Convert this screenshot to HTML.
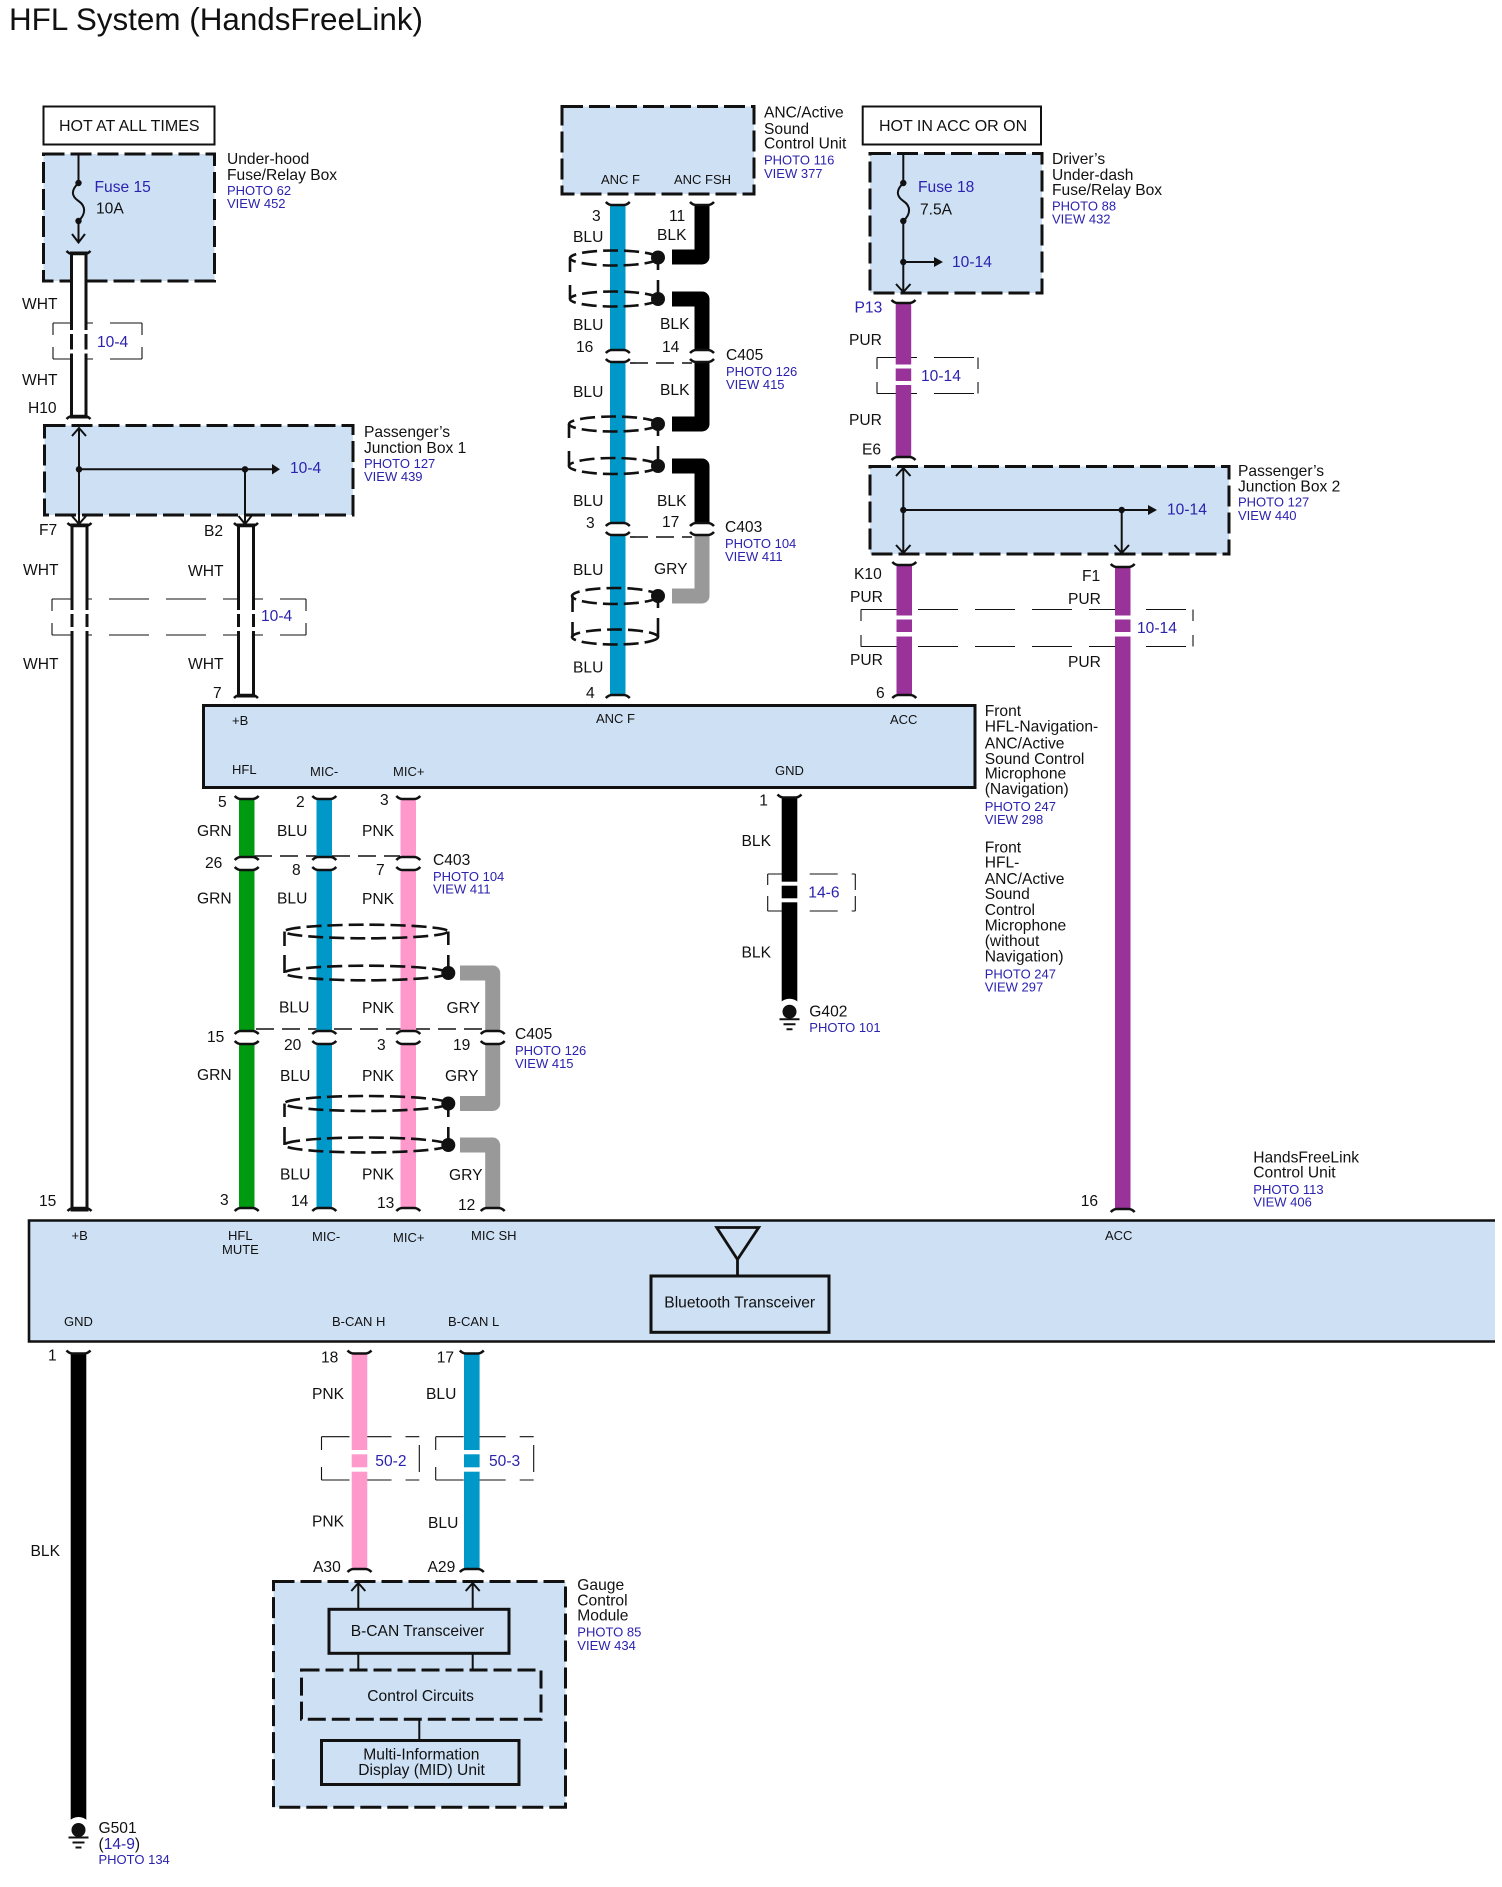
<!DOCTYPE html>
<html><head><meta charset="utf-8"><title>HFL System (HandsFreeLink)</title>
<style>
html,body{margin:0;padding:0;background:#fff}
svg{display:block}
text{font-family:"Liberation Sans",Arial,sans-serif;font-size:15.6px;fill:#111}
.b{fill:#2b22ae}
.p{font-size:13px;fill:#2b22ae}
.s{font-size:13px}
.n{fill:#2b22ae;font-size:15.6px}
.box{fill:#cee0f4;stroke:#111;stroke-width:3;stroke-dasharray:21 6}
.sol{fill:#cee0f4;stroke:#111;stroke-width:3}
.ln{fill:none;stroke:#111;stroke-width:2}
.th{fill:none;stroke:#111;stroke-width:1.1}
.thd{fill:none;stroke:#111;stroke-width:1.1;stroke-dasharray:40 17}
.thm{fill:none;stroke:#111;stroke-width:1.1;stroke-dasharray:28 14}
.sh{fill:none;stroke:#111;stroke-width:2.6;stroke-dasharray:15 6}
.shv{fill:none;stroke:#111;stroke-width:2.6}
.cd{fill:none;stroke:#111;stroke-width:1.6;stroke-dasharray:18 8}
.bend{fill:none;stroke-width:15;stroke-linejoin:round}
</style></head>
<body>
<svg xmlns="http://www.w3.org/2000/svg" width="1502" height="1887" viewBox="0 0 1502 1887">
<defs>
<path id="ct" d="M-12-2Q-9 1-6 1H6Q9 1 12-2" fill="none" stroke="#111" stroke-width="2.6"/>
<path id="cb" d="M-12 2Q-9-1-6-1H6Q9-1 12 2" fill="none" stroke="#111" stroke-width="2.6"/>
<g id="gnd"><circle r="13" fill="#fff"/><circle r="7" fill="#111"/><path d="M-10 7.500H10M-6 12.500H6M-3 17.500H3" stroke="#111" stroke-width="2"/></g>
</defs>
<rect width="1502" height="1887" fill="#fff"/>

<text x="9" y="30" style="font-size:31.4px">HFL System (HandsFreeLink)</text>

<!-- boxes -->
<rect x="43.5" y="106.5" width="171" height="38" fill="#fff" stroke="#111" stroke-width="2"/>
<text x="59" y="131" style="font-size:16px">HOT AT ALL TIMES</text>
<rect class="box" x="43.5" y="154" width="171" height="127"/>
<rect class="box" x="44.5" y="425.5" width="308.5" height="89.5"/>
<rect class="box" x="562" y="106.5" width="192" height="87.5"/>
<rect x="862.7" y="106.5" width="178.3" height="38" fill="#fff" stroke="#111" stroke-width="2"/>
<text x="879" y="131" style="font-size:16px">HOT IN ACC OR ON</text>
<rect class="box" x="870" y="153.5" width="172" height="139.5"/>
<rect class="box" x="870" y="466.5" width="359" height="87.5"/>
<rect class="sol" x="203.5" y="705.5" width="771.5" height="82"/>
<rect x="29" y="1220.5" width="1466" height="121" fill="#cee0f4"/>
<path d="M1495 1220.500H29V1341.500H1495" fill="none" stroke="#111" stroke-width="2.6"/>
<rect class="box" x="273.500" y="1581.500" width="292" height="225.800"/>

<!-- thin dashed ref boxes -->
<path class="thd" d="M53 323H142M53 359H142"/><path class="th" d="M53 323V335M53 347V359M142 323V335M142 347V359"/>
<path class="thd" d="M52 599H306M52 635H306"/><path class="th" d="M52 599V611M52 623V635M306 599V611M306 623V635"/>
<path class="thd" d="M877 357.500H978M877 393.500H978"/><path class="th" d="M877 357.500V369M877 382V393.500M978 357.500V369M978 382V393.500"/>
<path class="thd" d="M861 609.500H1193M861 646.500H1193"/><path class="th" d="M861 609.500V621M861 635V646.500M1193 609.500V621M1193 635V646.500"/>
<path class="thm" d="M767.700 874H855.300M767.700 911H855.300"/><path class="th" d="M767.700 874V885M767.700 896V911M855.300 874V890M855.300 896V911"/>
<path class="thm" d="M321.500 1436.700H419.300M321.500 1480H419.300"/><path class="th" d="M321.500 1436.700V1450M321.500 1467V1480M419.300 1445V1472"/>
<path class="thm" d="M435.700 1436.700H533.700M435.700 1480H533.700"/><path class="th" d="M435.700 1436.700V1450M435.700 1467V1480M533.700 1445V1472"/>

<!-- internal lines -->
<path class="ln" d="M78.500 154V183M78.500 221V242M72 234L78.500 242.500L85 234"/>
<path class="ln" d="M78.500 183C71 190 71 196 78.500 201C86 206 86 214 78.500 221"/>
<circle cx="78.500" cy="183" r="3.200" fill="#111"/><circle cx="78.500" cy="221" r="3.200" fill="#111"/>
<path class="ln" d="M79 428V524M72 436L79 428L86 436M72 516L79 524L86 516M79 469.300H272M245 469.300V524M238.500 516L245 524L251.500 516"/>
<path d="M272 464L280 469.300L272 474.500Z" fill="#111"/>
<circle cx="79" cy="469.300" r="3.200" fill="#111"/><circle cx="245" cy="469.300" r="3.200" fill="#111"/>

<path class="ln" d="M903.300 154V183M903.300 221V292M896 284L903.300 292L910.500 284M903.300 262H934"/>
<path class="ln" d="M903.300 183C896 190 896 196 903.300 201C911 206 911 214 903.300 221"/>
<path d="M934 257L943 262L934 267Z" fill="#111"/>
<circle cx="903.300" cy="183" r="3.200" fill="#111"/><circle cx="903.300" cy="221" r="3.200" fill="#111"/><circle cx="903.300" cy="262" r="3.200" fill="#111"/>
<path class="ln" d="M903.300 468V553M896 476L903.300 468L910.500 476M896 545L903.300 553L910.500 545M903.300 510H1148M1121.700 510V553M1114.500 545L1121.700 553L1129 545"/>
<path d="M1148 505L1157 510L1148 515Z" fill="#111"/>
<circle cx="903.300" cy="510" r="3.200" fill="#111"/><circle cx="1121.700" cy="510" r="3.200" fill="#111"/>

<!-- connector dashes -->
<path class="cd" d="M630 363H692"/>
<path class="cd" d="M630 537H692"/>
<path class="cd" d="M254 856H400"/>
<path class="cd" d="M256 1029H485"/>

<!-- white wires -->
<g fill="#fff" stroke="#111" stroke-width="3">
<path d="M71.500 253H86V417H71.500Z"/>
<path d="M72 525H87V1210H72Z"/>
<path d="M238.500 525H253.500V696H238.500Z"/>
</g>
<!-- colored straight wires -->
<g>
<rect x="610" y="205" width="15.500" height="145" fill="#0098c8"/>
<rect x="610" y="361" width="15.500" height="163" fill="#0098c8"/>
<rect x="610" y="534" width="15.500" height="162" fill="#0098c8"/>
<rect x="895.700" y="302.500" width="15.500" height="155" fill="#993399"/>
<rect x="896.500" y="564" width="15.500" height="132" fill="#993399"/>
<rect x="1115" y="566" width="15.500" height="644" fill="#993399"/>
<rect x="239" y="798" width="15.500" height="60" fill="#009a10"/>
<rect x="239" y="869" width="15.500" height="163" fill="#009a10"/>
<rect x="239" y="1043" width="15.500" height="166" fill="#009a10"/>
<rect x="316.500" y="798" width="15.500" height="60" fill="#0098c8"/>
<rect x="316.500" y="869" width="15.500" height="163" fill="#0098c8"/>
<rect x="316.500" y="1043" width="15.500" height="166" fill="#0098c8"/>
<rect x="400.500" y="798" width="15.500" height="60" fill="#ff99cc"/>
<rect x="400.500" y="869" width="15.500" height="163" fill="#ff99cc"/>
<rect x="400.500" y="1043" width="15.500" height="166" fill="#ff99cc"/>
<rect x="781.700" y="797" width="15.600" height="208" fill="#000"/>
<rect x="70.700" y="1353" width="15.600" height="470" fill="#000"/>
<rect x="351.700" y="1353" width="15.600" height="217" fill="#ff99cc"/>
<rect x="464" y="1353" width="15.600" height="217" fill="#0098c8"/>
</g>
<!-- bent wires -->
<path class="bend" stroke="#000" d="M702 205V257H672"/>
<path class="bend" stroke="#000" d="M672 299H702V350"/>
<path class="bend" stroke="#000" d="M702 361V424H672"/>
<path class="bend" stroke="#000" d="M672 466H702V524"/>
<path class="bend" stroke="#999" d="M702 534V596H672"/>
<path class="bend" stroke="#999" d="M460 973H492.700V1032"/>
<path class="bend" stroke="#999" d="M492.700 1043V1103.500H460"/>
<path class="bend" stroke="#999" d="M460 1145H492.700V1209"/>

<!-- wire breaks -->
<g fill="#fff">
<rect x="65" y="330" width="27" height="4"/><rect x="65" y="349.500" width="27" height="4"/>
<rect x="66" y="610" width="27" height="4"/><rect x="66" y="627" width="27" height="4"/>
<rect x="232" y="610" width="28" height="4"/><rect x="232" y="627" width="28" height="4"/>
<rect x="893" y="364.500" width="21" height="4"/><rect x="893" y="381" width="21" height="4"/>
<rect x="894" y="615.500" width="21" height="4"/><rect x="894" y="632" width="21" height="4.500"/>
<rect x="1113" y="615.500" width="21" height="4"/><rect x="1113" y="632" width="21" height="4.500"/>
<rect x="779" y="881.700" width="21" height="4"/><rect x="779" y="898.300" width="21" height="4"/>
<rect x="349" y="1450" width="21" height="4.300"/><rect x="349" y="1467.300" width="21" height="4.400"/>
<rect x="461" y="1450" width="21" height="4.300"/><rect x="461" y="1467.300" width="21" height="4.400"/>
</g>

<!-- connector caps -->
<g>
<use href="#ct" x="78.500" y="253"/><use href="#cb" x="78.500" y="417"/>
<use href="#ct" x="79.500" y="525"/><use href="#cb" x="79.500" y="1209"/>
<use href="#ct" x="246" y="525"/><use href="#cb" x="246" y="696"/>
<use href="#ct" x="617.800" y="204"/><use href="#ct" x="702" y="204"/>
<use href="#cb" x="617.800" y="351"/><use href="#cb" x="702" y="351"/>
<use href="#ct" x="617.800" y="361"/><use href="#ct" x="702" y="361"/>
<use href="#cb" x="617.800" y="524"/><use href="#cb" x="702" y="524"/>
<use href="#ct" x="617.800" y="534"/><use href="#ct" x="702" y="534"/>
<use href="#cb" x="617.800" y="696"/>
<use href="#ct" x="903.500" y="302"/><use href="#cb" x="903.500" y="458"/>
<use href="#ct" x="904.300" y="564"/><use href="#cb" x="904.300" y="696"/>
<use href="#ct" x="1122.700" y="566"/><use href="#cb" x="1122.700" y="1210"/>
<use href="#ct" x="246.700" y="798"/><use href="#ct" x="324.300" y="798"/><use href="#ct" x="408.300" y="798"/><use href="#ct" x="789.500" y="796.500"/>
<use href="#cb" x="246.700" y="858"/><use href="#cb" x="324.300" y="858"/><use href="#cb" x="408.300" y="858"/>
<use href="#ct" x="246.700" y="869"/><use href="#ct" x="324.300" y="869"/><use href="#ct" x="408.300" y="869"/>
<use href="#cb" x="246.700" y="1032"/><use href="#cb" x="324.300" y="1032"/><use href="#cb" x="408.300" y="1032"/><use href="#cb" x="492.700" y="1032"/>
<use href="#ct" x="246.700" y="1043"/><use href="#ct" x="324.300" y="1043"/><use href="#ct" x="408.300" y="1043"/><use href="#ct" x="492.700" y="1043"/>
<use href="#cb" x="246.700" y="1209"/><use href="#cb" x="324.300" y="1209"/><use href="#cb" x="408.300" y="1209"/><use href="#cb" x="492.700" y="1209"/>
<use href="#ct" x="78.500" y="1352.500"/><use href="#ct" x="359.500" y="1352.500"/><use href="#ct" x="471.800" y="1352.500"/>
<use href="#cb" x="359.500" y="1570"/><use href="#cb" x="471.800" y="1570"/>
</g>

<!-- shields -->
<g>
<ellipse class="sh" cx="614" cy="258" rx="44" ry="7.500"/>
<ellipse class="sh" cx="614" cy="299" rx="44" ry="7.500"/>
<path class="shv" d="M570 258V272M570 285V299M658 258V270M658 280V299"/>
<circle cx="658" cy="257.500" r="7" fill="#111"/><circle cx="658" cy="299" r="7" fill="#111"/>
<ellipse class="sh" cx="613.500" cy="424" rx="44.500" ry="7.500"/>
<ellipse class="sh" cx="613.500" cy="466" rx="44.500" ry="8"/>
<path class="shv" d="M569 424V438M569 451V466M658 424V436M658 446V466"/>
<circle cx="658" cy="424" r="7" fill="#111"/><circle cx="658" cy="466" r="7" fill="#111"/>
<ellipse class="sh" cx="615" cy="596" rx="43" ry="8"/>
<ellipse class="sh" cx="615" cy="637" rx="43" ry="7.500"/>
<path class="shv" d="M572.500 596V612M572.500 622V637M658 596V608M658 618V637"/>
<circle cx="658" cy="596" r="7" fill="#111"/>
<ellipse class="sh" cx="366.300" cy="931.500" rx="82" ry="6.800"/>
<ellipse class="sh" cx="366.300" cy="973" rx="82" ry="7.300"/>
<path class="shv" d="M284.500 931.500V946M284.500 955V973M448.300 931.500V945M448.300 955V973"/>
<circle cx="448.300" cy="973" r="7" fill="#111"/>
<ellipse class="sh" cx="366.300" cy="1103.500" rx="82" ry="7.500"/>
<ellipse class="sh" cx="366.300" cy="1145" rx="82" ry="7.500"/>
<path class="shv" d="M284.500 1103.500V1117M284.500 1127V1145M448.300 1103.500V1117M448.300 1127V1145"/>
<circle cx="448.300" cy="1103.500" r="7" fill="#111"/><circle cx="448.300" cy="1145" r="7" fill="#111"/>
</g>

<!-- grounds -->
<use href="#gnd" x="789.500" y="1011.700"/>
<use href="#gnd" x="78.500" y="1830"/>

<!-- Bluetooth -->
<path d="M716.700 1227.500H758.700L737.500 1259.500ZM737.500 1259.500V1276" fill="none" stroke="#111" stroke-width="2.800"/>
<rect class="sol" x="651" y="1276" width="178" height="56.300"/>
<text x="664.300" y="1307.300">Bluetooth Transceiver</text>

<!-- gauge module -->
<path class="ln" d="M358.300 1583V1609M351.300 1591L358.300 1583L365.300 1591M472.700 1583V1609M465.700 1591L472.700 1583L479.700 1591M358.300 1653V1670M472.700 1653V1670M419.300 1719V1740"/>
<rect class="sol" x="329" y="1609.300" width="180" height="44"/>
<text x="350.700" y="1636">B-CAN Transceiver</text>
<rect class="box" x="301.500" y="1670" width="239.500" height="49.300" style="stroke-dasharray:18 6"/>
<text x="367.300" y="1701">Control Circuits</text>
<rect class="sol" x="321.500" y="1740.500" width="197.500" height="44"/>
<text x="363.300" y="1759.300">Multi-Information</text>
<text x="358.300" y="1775">Display (MID) Unit</text>

<!-- box labels -->
<text x="227" y="164">Under-hood</text><text x="227" y="180">Fuse/Relay Box</text>
<text class="p" x="227" y="195">PHOTO 62</text><text class="p" x="227" y="208">VIEW 452</text>
<text class="n" x="94.500" y="192">Fuse 15</text><text x="96" y="213.500">10A</text>
<text x="22" y="309">WHT</text><text class="n" x="97" y="347">10-4</text><text x="22" y="385">WHT</text><text x="28" y="413">H10</text>
<text class="n" x="290" y="473">10-4</text>
<text x="364" y="437">Passenger’s</text><text x="364" y="453">Junction Box 1</text>
<text class="p" x="364" y="468">PHOTO 127</text><text class="p" x="364" y="481">VIEW 439</text>
<text x="39" y="535">F7</text><text x="204" y="536">B2</text>
<text x="23" y="575">WHT</text><text x="188" y="576">WHT</text>
<text class="n" x="261" y="621">10-4</text>
<text x="23" y="669">WHT</text><text x="188" y="669">WHT</text><text x="213" y="698">7</text>

<text x="764" y="117.500">ANC/Active</text><text x="764" y="134">Sound</text><text x="764" y="148.500">Control Unit</text>
<text class="p" x="764" y="164.500">PHOTO 116</text><text class="p" x="764" y="178">VIEW 377</text>
<text class="s" x="601" y="184">ANC F</text><text class="s" x="674" y="184">ANC FSH</text>
<text x="592" y="221">3</text><text x="669" y="221">11</text>
<text x="573" y="242">BLU</text><text x="657" y="240">BLK</text>
<text x="573" y="330">BLU</text><text x="660" y="329">BLK</text>
<text x="576" y="352">16</text><text x="662" y="352">14</text>
<text x="726" y="360">C405</text><text class="p" x="726" y="376">PHOTO 126</text><text class="p" x="726" y="389">VIEW 415</text>
<text x="573" y="397">BLU</text><text x="660" y="395">BLK</text>
<text x="573" y="506">BLU</text><text x="657" y="506">BLK</text>
<text x="586" y="528">3</text><text x="662" y="527">17</text>
<text x="725" y="532">C403</text><text class="p" x="725" y="548">PHOTO 104</text><text class="p" x="725" y="561">VIEW 411</text>
<text x="573" y="575">BLU</text><text x="654" y="574">GRY</text>
<text x="573" y="672.500">BLU</text><text x="586" y="698">4</text>

<text x="1052" y="164">Driver’s</text><text x="1052" y="180">Under-dash</text><text x="1052" y="195">Fuse/Relay Box</text>
<text class="p" x="1052" y="210.500">PHOTO 88</text><text class="p" x="1052" y="223.500">VIEW 432</text>
<text class="n" x="918" y="192">Fuse 18</text><text x="920" y="214.500">7.5A</text>
<text class="n" x="952" y="267">10-14</text>
<text class="n" x="854.500" y="312.500">P13</text>
<text x="849" y="345">PUR</text><text class="n" x="921" y="381">10-14</text><text x="849" y="425">PUR</text><text x="862" y="454.500">E6</text>
<text class="n" x="1167" y="514.500">10-14</text>
<text x="1238" y="476">Passenger’s</text><text x="1238" y="491.500">Junction Box 2</text>
<text class="p" x="1238" y="506.500">PHOTO 127</text><text class="p" x="1238" y="520">VIEW 440</text>
<text x="854" y="579">K10</text><text x="850" y="602">PUR</text><text x="850" y="665">PUR</text><text x="876" y="698">6</text>
<text x="1082" y="581">F1</text><text x="1068" y="604">PUR</text><text x="1068" y="667">PUR</text>
<text class="n" x="1137" y="633">10-14</text>

<text class="s" x="232" y="725">+B</text><text class="s" x="596" y="723">ANC F</text><text class="s" x="890" y="724">ACC</text>
<text class="s" x="232" y="774">HFL</text><text class="s" x="310" y="776">MIC-</text><text class="s" x="393" y="776">MIC+</text><text class="s" x="775" y="775">GND</text>

<text x="984.700" y="716">Front</text><text x="984.700" y="731.700">HFL-Navigation-</text><text x="984.700" y="748.300">ANC/Active</text><text x="984.700" y="764">Sound Control</text><text x="984.700" y="778.500">Microphone</text><text x="984.700" y="794">(Navigation)</text>
<text class="p" x="984.700" y="811">PHOTO 247</text><text class="p" x="984.700" y="824">VIEW 298</text>
<text x="984.700" y="852.300">Front</text><text x="984.700" y="867.700">HFL-</text><text x="984.700" y="884">ANC/Active</text><text x="984.700" y="899">Sound</text><text x="984.700" y="915">Control</text><text x="984.700" y="930.700">Microphone</text><text x="984.700" y="946">(without</text><text x="984.700" y="961.700">Navigation)</text>
<text class="p" x="984.700" y="978.300">PHOTO 247</text><text class="p" x="984.700" y="991.700">VIEW 297</text>

<text x="218" y="807">5</text><text x="296" y="807">2</text><text x="380" y="805">3</text>
<text x="197" y="836">GRN</text><text x="277" y="836">BLU</text><text x="362" y="836">PNK</text>
<text x="205" y="868">26</text><text x="292" y="875">8</text><text x="376" y="875">7</text>
<text x="433" y="865">C403</text><text class="p" x="433" y="881">PHOTO 104</text><text class="p" x="433" y="893.500">VIEW 411</text>
<text x="197" y="903.500">GRN</text><text x="277" y="903.500">BLU</text><text x="362" y="904">PNK</text>
<text x="279" y="1012.500">BLU</text><text x="362" y="1013">PNK</text><text x="446.500" y="1013">GRY</text>
<text x="207" y="1042">15</text><text x="284" y="1050">20</text><text x="377" y="1050">3</text><text x="453" y="1050">19</text>
<text x="515" y="1039">C405</text><text class="p" x="515" y="1055">PHOTO 126</text><text class="p" x="515" y="1068">VIEW 415</text>
<text x="197" y="1080">GRN</text><text x="280" y="1081">BLU</text><text x="362" y="1081">PNK</text><text x="445" y="1081">GRY</text>
<text x="280" y="1179.500">BLU</text><text x="362" y="1179.500">PNK</text><text x="449" y="1180">GRY</text>
<text x="39" y="1206">15</text><text x="220" y="1205">3</text><text x="291" y="1206">14</text><text x="377" y="1208">13</text><text x="458" y="1210">12</text>

<text x="759.300" y="805.700">1</text><text x="741.500" y="846">BLK</text><text class="n" x="808.300" y="897.700">14-6</text><text x="741.500" y="957.300">BLK</text>
<text x="809.300" y="1016.700">G402</text><text class="p" x="809.300" y="1032">PHOTO 101</text>

<text x="1253.300" y="1162.700">HandsFreeLink</text><text x="1253.300" y="1177.700">Control Unit</text>
<text class="p" x="1253.300" y="1194">PHOTO 113</text><text class="p" x="1253.300" y="1206.700">VIEW 406</text>
<text x="1080.700" y="1206">16</text>

<text class="s" x="71.500" y="1240">+B</text><text class="s" x="228" y="1240">HFL</text><text class="s" x="222" y="1254">MUTE</text>
<text class="s" x="312" y="1241">MIC-</text><text class="s" x="393" y="1242">MIC+</text><text class="s" x="471" y="1240">MIC SH</text>
<text class="s" x="1105" y="1240">ACC</text>
<text class="s" x="64" y="1326">GND</text><text class="s" x="332" y="1326">B-CAN H</text><text class="s" x="448" y="1326">B-CAN L</text>

<text x="48" y="1360.500">1</text><text x="30.500" y="1556">BLK</text>
<text x="321" y="1362.700">18</text><text x="436.700" y="1362.700">17</text>
<text x="312" y="1399">PNK</text><text x="426" y="1399">BLU</text>
<text class="n" x="375.300" y="1466">50-2</text><text class="n" x="489" y="1466">50-3</text>
<text x="312" y="1526.700">PNK</text><text x="428" y="1528">BLU</text>
<text x="313" y="1572">A30</text><text x="427.500" y="1572">A29</text>
<text x="577.300" y="1590">Gauge</text><text x="577.300" y="1605.700">Control</text><text x="577.300" y="1620.700">Module</text>
<text class="p" x="577.300" y="1636.700">PHOTO 85</text><text class="p" x="577.300" y="1650">VIEW 434</text>
<text x="98.500" y="1833">G501</text>
<text x="98.500" y="1849">(<tspan class="b">14-9</tspan>)</text>
<text class="p" x="98.500" y="1864">PHOTO 134</text>
</svg>
</body></html>
